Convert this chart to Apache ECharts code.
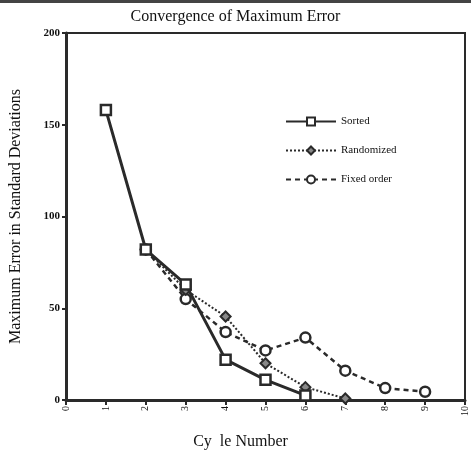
<!DOCTYPE html>
<html>
<head>
<meta charset="utf-8">
<script src="https://cdn.jsdelivr.net/npm/echarts@6/dist/echarts.min.js"></script>
<style>
  html, body { margin: 0; padding: 0; background: #fff; }
  #main { width: 471px; height: 455px; }
</style>
</head>
<body>
<div id="main"></div>
<script>
var cycles = [0, 1, 2, 3, 4, 5, 6, 7, 8, 9, 10];
var sorted = [[1, 158], [2, 82], [3, 63], [4, 22], [5, 11], [6, 2.5]];
var randomized = [[2, 82], [3, 60], [4, 45.5], [5, 20], [6, 7], [7, 0.8]];
var fixedOrder = [[2, 82], [3, 55], [4, 37], [5, 27], [6, 34], [7, 16], [8, 6.5], [9, 4.5]];

var serif = '"Liberation Serif", "DejaVu Serif", serif';
var ink = '#2a2a2a';

var chart = echarts.init(document.getElementById('main'));

var option = {
  backgroundColor: '#fff',
  animation: false,
  title: {
    text: 'Convergence of Maximum Error',
    left: 'center',
    top: 4,
    textStyle: { fontFamily: serif, fontSize: 16, fontWeight: 'normal', color: '#111' }
  },
  graphic: [
    { type: 'rect', shape: { x: 0, y: 0, width: 471, height: 3 }, style: { fill: '#444' } }
  ],
  legend: {
    orient: 'vertical',
    left: 280,
    top: 111,
    itemWidth: 50,
    itemHeight: 10,
    itemGap: 18,
    textStyle: { fontFamily: serif, fontSize: 11, color: '#111' },
    data: ['Sorted', 'Randomized', 'Fixed order']
  },
  grid: {
    left: 63,
    right: 6,
    top: 33,
    bottom: 53,
    show: true,
    borderColor: ink,
    borderWidth: 2
  },
  xAxis: {
    type: 'value',
    min: 0,
    max: 10,
    interval: 1,
    name: 'Cy  le Number',
    nameLocation: 'middle',
    nameGap: 34,
    nameTextStyle: { fontFamily: serif, fontSize: 16, color: '#111', padding: [0, 50, 0, 0] },
    axisLine: { lineStyle: { color: ink, width: 3 } },
    axisTick: { lineStyle: { color: ink, width: 2 }, length: 5 },
    axisLabel: {
      rotate: 90,
      fontFamily: serif,
      fontSize: 10,
      color: '#111',
      margin: 6,
      formatter: function (v) { return String(cycles[v]); }
    },
    splitLine: { show: false }
  },
  yAxis: {
    type: 'value',
    min: 0,
    max: 200,
    interval: 50,
    name: 'Maximum Error in Standard Deviations',
    nameLocation: 'middle',
    nameGap: 42,
    nameTextStyle: { fontFamily: serif, fontSize: 16, color: '#111' },
    axisLine: { show: true, lineStyle: { color: ink, width: 3 } },
    axisTick: { show: true, inside: false, lineStyle: { color: ink, width: 2 }, length: 4 },
    axisLabel: { fontFamily: serif, fontSize: 11, fontWeight: 'bold', color: '#111', margin: 6 },
    splitLine: { show: false }
  },
  series: [
    {
      name: 'Sorted',
      type: 'line',
      data: sorted,
      symbol: 'rect',
      symbolSize: 10,
      color: ink,
      lineStyle: { color: ink, width: 3, type: 'solid' },
      itemStyle: { color: '#fff', borderColor: ink, borderWidth: 2.5 },
      z: 4
    },
    {
      name: 'Randomized',
      type: 'line',
      data: randomized,
      symbol: 'diamond',
      symbolSize: 10,
      color: ink,
      lineStyle: { color: ink, width: 2, type: 'dotted' },
      itemStyle: { color: '#888', borderColor: ink, borderWidth: 2 },
      z: 3
    },
    {
      name: 'Fixed order',
      type: 'line',
      data: fixedOrder,
      symbol: 'circle',
      symbolSize: 10,
      color: ink,
      lineStyle: { color: ink, width: 2.5, type: [5, 4] },
      itemStyle: { color: '#fff', borderColor: ink, borderWidth: 2.5 },
      z: 2
    }
  ]
};

chart.setOption(option);
</script>
</body>
</html>
